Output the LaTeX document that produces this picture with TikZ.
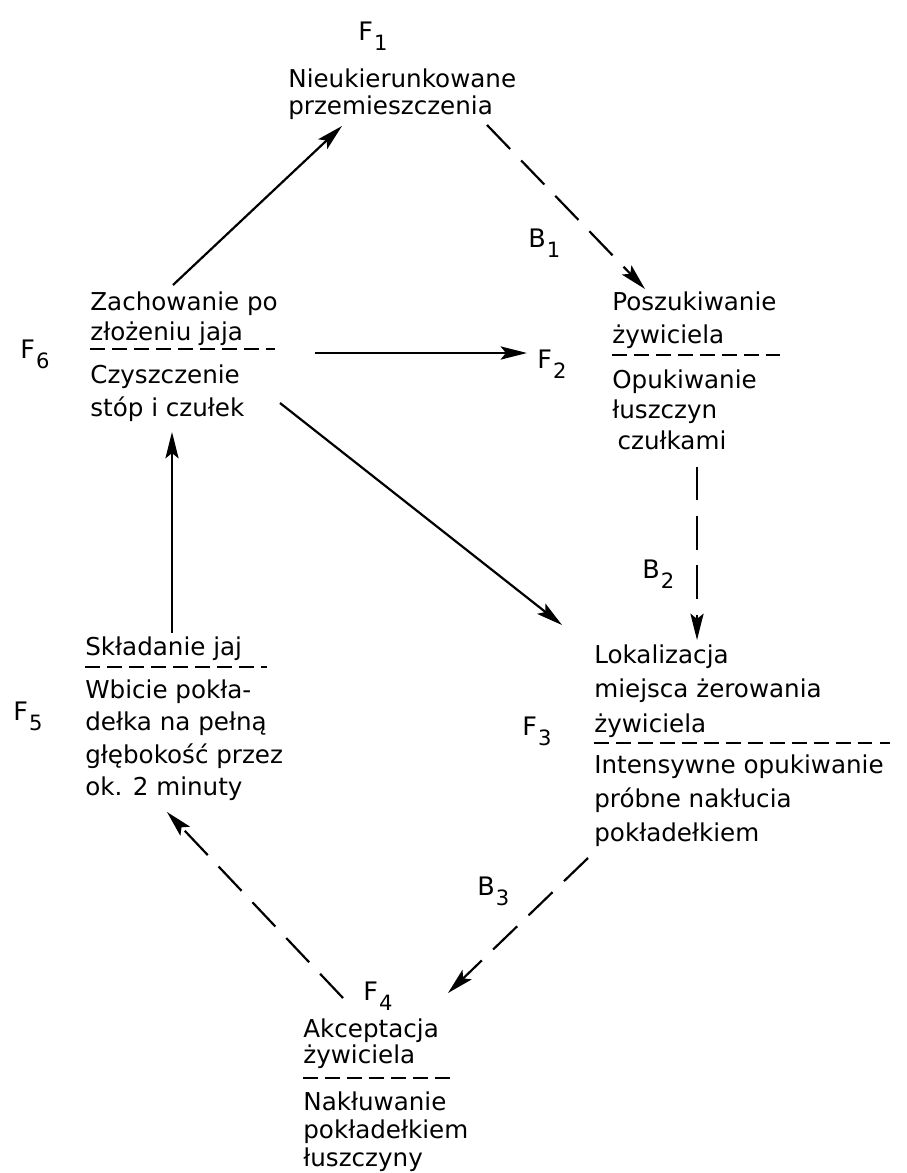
\documentclass[tikz,border=0pt]{standalone}
\usepackage{fontspec}
\setmainfont{DejaVu Sans}
\usetikzlibrary{arrows.meta}
\newcommand\Fsub[2]{#1\kern0.6pt\raisebox{-0.42em}{\fontsize{12}{12}\selectfont #2}}
\newcommand\stk[2]{\vtop{\baselineskip=#1\lineskiplimit=-\maxdimen\lineskip=0pt #2}}
\tikzset{
  txt/.style={inner sep=0pt, anchor=base west, font=\fontsize{14}{16}\selectfont},
  lab/.style={inner sep=0pt, anchor=base west, font=\fontsize{14.5}{16}\selectfont},
  conn/.style={line width=1.25pt, -{Stealth[length=15pt,width=7.5pt,inset=3pt]}},
  dconn/.style={conn, dash pattern=on 19pt off 9pt},
  sepline/.style={line width=1pt, dash pattern=on 8.5pt off 4pt}
}
\begin{document}
\begin{tikzpicture}[x=0.02cm,y=-0.02cm]
\useasboundingbox (0,0) rectangle (906,1173);

% labels F / B
\node[lab] (f1lab) at (358,40) {\Fsub{F}{1}};
\node[lab] (f2lab) at (537,368) {\Fsub{F}{2}};
\node[lab] (f3lab) at (522,735) {\Fsub{F}{3}};
\node[lab] (f4lab) at (363,1000) {\Fsub{F}{4}};
\node[lab] (f5lab) at (13,720) {\Fsub{F}{5}};
\node[lab] (f6lab) at (20,358) {\Fsub{F}{6}};
\node[lab] (b1lab) at (528,247) {\Fsub{B}{1}};
\node[lab] (b2lab) at (642,578) {\Fsub{B}{2}};
\node[lab] (b3lab) at (477,895) {\Fsub{B}{3}};

% F1
\node[txt] (f1) at (288,87) {\stk{15.9pt}{\hbox{Nieukierunkowane}\hbox{przemieszczenia}}};

% F6
\node[txt] (f6top) at (90,310) {\stk{17.6pt}{\hbox{Zachowanie po}\hbox{złożeniu jaja}}};
\node[txt] (f6bot) at (90,383) {\stk{19.3pt}{\hbox{Czyszczenie}\hbox{stóp i czułek}}};
\draw[sepline] (90,349) -- (275,349);

% F2 block
\node[txt] (f2top) at (612,310) {\stk{18.8pt}{\hbox{Poszukiwanie}\hbox{żywiciela}}};
\node[txt] (f2bot) at (612,388) {\stk{17.6pt}{\hbox{Opukiwanie}\hbox{łuszczyn}\hbox{\kern3pt czułkami}}};
\draw[sepline] (612,355) -- (780,355);

% F3 block
\node[txt] (f3top) at (594,663) {\stk{19.9pt}{\hbox{Lokalizacja}\hbox{miejsca żerowania}\hbox{żywiciela}}};
\node[txt] (f3bot) at (594,773) {\stk{19.6pt}{\hbox{Intensywne opukiwanie}\hbox{próbne nakłucia}\hbox{pokładełkiem}}};
\draw[sepline] (594,743) -- (890,743);

% F4 block
\node[txt] (f4top) at (303,1037) {\stk{14.8pt}{\hbox{Akceptacja}\hbox{żywiciela}}};
\node[txt] (f4bot) at (303,1110) {\stk{16.2pt}{\hbox{Nakłuwanie}\hbox{pokładełkiem}\hbox{łuszczyny}}};
\draw[sepline] (303,1078) -- (455,1078);

% F5 block
\node[txt] (f5top) at (85,655) {Składanie jaj};
\node[txt] (f5bot) at (85,698) {\stk{18.5pt}{\hbox{Wbicie pokła-}\hbox{dełka na pełną}\hbox{głębokość przez}\hbox{ok. 2 minuty}}};
\draw[sepline] (85,667) -- (267,667);

% connector end points
\coordinate (f6-up) at (173,285);
\coordinate (f1-in) at (342,126);
\coordinate (f1-out) at (487,125);
\coordinate (f2-in) at (645,289);
\coordinate (f6-right) at (315,353);
\coordinate (f2lab-in) at (527,353);
\coordinate (f6-down) at (280,403);
\coordinate (f3-in) at (562,625);
\coordinate (f2-down) at (697,467);
\coordinate (f3-top) at (697,640);
\coordinate (f3-out) at (588,858);
\coordinate (f4-in) at (448,993);
\coordinate (f4-out) at (343,998);
\coordinate (f5-in) at (167,812);
\coordinate (f5-up) at (172,633);
\coordinate (f6-in) at (172,432);

% connectors
\draw[conn] (f6-up) -- (f1-in);
\draw[dconn] (f1-out) -- (f2-in);
\draw[conn] (f6-right) -- (f2lab-in);
\draw[conn] (f6-down) -- (f3-in);
\draw[dconn] (f2-down) -- (f3-top);
\draw[dconn] (f3-out) -- (f4-in);
\draw[dconn] (f4-out) -- (f5-in);
\draw[conn] (f5-up) -- (f6-in);
\end{tikzpicture}
\end{document}
